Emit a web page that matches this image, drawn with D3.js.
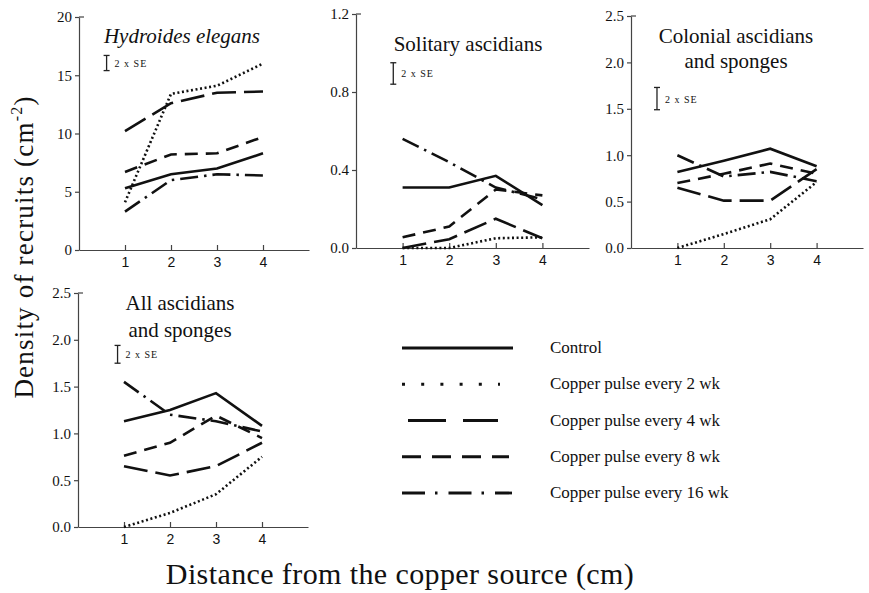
<!DOCTYPE html>
<html lang="en">
<head>
  <meta charset="utf-8">
  <title>Density of recruits</title>
  <script src="https://d3js.org/d3.v7.min.js"></script>
  <style>
    body { margin: 0; background: #fff; }
    text { fill: #111; }
  </style>
</head>
<body>
<script>
// distance from copper source (cm)
const distances = [1, 2, 3, 4];
const treatments = ["Control", "Copper pulse every 2 wk", "Copper pulse every 4 wk",
                    "Copper pulse every 8 wk", "Copper pulse every 16 wk"];

// values per treatment, same order as treatments
const hydroidesValues = [
  [5.3, 6.5, 7.0, 8.3],
  [4.1, 13.4, 14.1, 16.0],
  [10.2, 12.6, 13.5, 13.6],
  [6.7, 8.2, 8.3, 9.7],
  [3.3, 6.0, 6.5, 6.4]
];
const solitaryValues = [
  [0.31, 0.31, 0.37, 0.22],
  [0.0, 0.0, 0.05, 0.055],
  [0.0, 0.045, 0.15, 0.05],
  [0.055, 0.11, 0.30, 0.27],
  [0.56, 0.44, 0.31, 0.25]
];
const colonialValues = [
  [0.82, 0.94, 1.07, 0.88],
  [0.0, 0.15, 0.31, 0.71],
  [0.65, 0.51, 0.51, 0.85],
  [0.70, 0.80, 0.91, 0.80],
  [1.0, 0.77, 0.82, 0.72]
];
const allValues = [
  [1.13, 1.25, 1.43, 1.08],
  [0.0, 0.15, 0.35, 0.75],
  [0.65, 0.55, 0.65, 0.90],
  [0.76, 0.90, 1.19, 0.95],
  [1.55, 1.20, 1.13, 1.02]
];

// 2 x SE bars: [x, low, high] in data units
const hydroidesSE = [0.6, 15.4, 16.7];
const solitarySE = [0.8, 0.84, 0.95];
const colonialSE = [0.56, 1.49, 1.73];
const allSE = [0.86, 1.75, 1.94];

const hydroidesTicks = [0, 5, 10, 15, 20];
const solitaryTicks = [0.0, 0.4, 0.8, 1.2];
const colonialTicks = [0.0, 0.5, 1.0, 1.5, 2.0, 2.5];

// line styles
const panelDash = [null, "2,2.6", "24,8", "13,8", "18,6,2.5,6"];
const legendDash = [null, "3,16.2", "38,17", "19,11", "23,10,2.5,11"];
const legendEnd = [513, 500, 498, 509, 512];
const legendStart = [402, 402, 408, 402, 402];

const serif = "'Liberation Serif', 'Times New Roman', serif";
const sans = "'Liberation Sans', Arial, sans-serif";

const svg = d3.select("body").append("svg")
  .attr("width", 869).attr("height", 593);

const panels = [
  { values: hydroidesValues, se: hydroidesSE, ticks: hydroidesTicks, fmt: d3.format("d"),
    xr: [79, 309], yr: [250, 17], top: 20,
    title: ["Hydroides elegans"], italic: true, tx: 182, ty: [43] },
  { values: solitaryValues, se: solitarySE, ticks: solitaryTicks, fmt: d3.format(".1f"),
    xr: [356, 589], yr: [248, 14], top: 1.2,
    title: ["Solitary ascidians"], tx: 468, ty: [51] },
  { values: colonialValues, se: colonialSE, ticks: colonialTicks, fmt: d3.format(".1f"),
    xr: [631, 863], yr: [248, 16], top: 2.5,
    title: ["Colonial ascidians", "and sponges"], tx: 736, ty: [43, 68] },
  { values: allValues, se: allSE, ticks: colonialTicks, fmt: d3.format(".1f"),
    xr: [78, 308], yr: [527, 293], top: 2.5,
    title: ["All ascidians", "and sponges"], tx: 180, ty: [310, 337] }
];

panels.forEach(function(p) {
  const x = d3.scaleLinear().domain([0, 5]).range(p.xr);
  const y = d3.scaleLinear().domain([0, p.top]).range(p.yr);
  const g = svg.append("g");

  // y axis
  const ya = g.append("g")
    .attr("transform", "translate(" + p.xr[0] + ",0)")
    .call(d3.axisLeft(y).tickValues(p.ticks).tickFormat(p.fmt).tickSize(4).tickSizeOuter(0).tickPadding(3));
  ya.select(".domain").attr("stroke", "#444").attr("stroke-width", 1.2);
  ya.selectAll(".tick line").attr("stroke", "#444").attr("stroke-width", 1.2);
  ya.selectAll("text").style("font-family", serif).style("font-size", "15px").attr("fill", "#222");
  // little cap at top of the axis
  g.append("line")
    .attr("x1", x(0)).attr("x2", x(0) + 5)
    .attr("y1", y(p.top)).attr("y2", y(p.top))
    .attr("stroke", "#444").attr("stroke-width", 1.2);

  // x axis
  const xa = g.append("g")
    .attr("transform", "translate(0," + p.yr[0] + ")")
    .call(d3.axisBottom(x).tickValues(distances).tickFormat(d3.format("d"))
      .tickSizeInner(-5).tickSizeOuter(0).tickPadding(7));
  xa.select(".domain").attr("stroke", "#444").attr("stroke-width", 1.2);
  xa.selectAll(".tick line").attr("stroke", "#444").attr("stroke-width", 1.2);
  xa.selectAll("text").style("font-family", sans).style("font-size", "14px").attr("fill", "#222");

  // title
  p.title.forEach(function(t, i) {
    g.append("text")
      .attr("x", p.tx).attr("y", p.ty[i])
      .attr("text-anchor", "middle")
      .style("font-family", serif)
      .style("font-size", "21px")
      .style("font-style", p.italic ? "italic" : "normal")
      .text(t);
  });

  // 2 x SE bar
  const sx = x(p.se[0]);
  g.append("line").attr("x1", sx).attr("x2", sx)
    .attr("y1", y(p.se[1])).attr("y2", y(p.se[2]))
    .attr("stroke", "#222").attr("stroke-width", 1.3);
  [p.se[1], p.se[2]].forEach(function(v) {
    g.append("line").attr("x1", sx - 3).attr("x2", sx + 3)
      .attr("y1", y(v)).attr("y2", y(v))
      .attr("stroke", "#222").attr("stroke-width", 1.3);
  });
  g.append("text")
    .attr("x", sx + 8).attr("y", (y(p.se[1]) + y(p.se[2])) / 2 + 4)
    .style("font-family", serif).style("font-size", "10px")
    .attr("letter-spacing", 1)
    .text("2 x SE");

  // lines
  const line = d3.line()
    .x(function(d, i) { return x(distances[i]); })
    .y(function(d) { return y(d); });
  p.values.forEach(function(vals, k) {
    g.append("path")
      .datum(vals)
      .attr("fill", "none")
      .attr("stroke", "#111")
      .attr("stroke-width", 2.6)
      .attr("stroke-dasharray", panelDash[k])
      .attr("d", line);
  });
});

// legend
const ly = d3.scalePoint().domain(treatments).range([348, 493]);
const leg = svg.append("g");
treatments.forEach(function(t, k) {
  leg.append("line")
    .attr("x1", legendStart[k]).attr("x2", legendEnd[k])
    .attr("y1", ly(t)).attr("y2", ly(t))
    .attr("stroke", "#111").attr("stroke-width", 2.8)
    .attr("stroke-dasharray", legendDash[k]);
  leg.append("text")
    .attr("x", 550).attr("y", ly(t) + 5)
    .style("font-family", serif).style("font-size", "17px")
    .text(t);
});

// axis titles
const yt = svg.append("text")
  .attr("transform", "translate(33,247) rotate(-90)")
  .attr("text-anchor", "middle")
  .style("font-family", serif)
  .style("font-size", "27px")
  .attr("letter-spacing", 1.2);
yt.append("tspan").text("Density of  recruits (cm");
yt.append("tspan").style("font-size", "16px").attr("dy", -11).text("-2");
yt.append("tspan").attr("dy", 11).text(")");

svg.append("text")
  .attr("x", 400).attr("y", 584)
  .attr("text-anchor", "middle")
  .style("font-family", serif)
  .style("font-size", "30px")
  .attr("letter-spacing", 0.4)
  .text("Distance from the copper source (cm)");
</script>
</body>
</html>
